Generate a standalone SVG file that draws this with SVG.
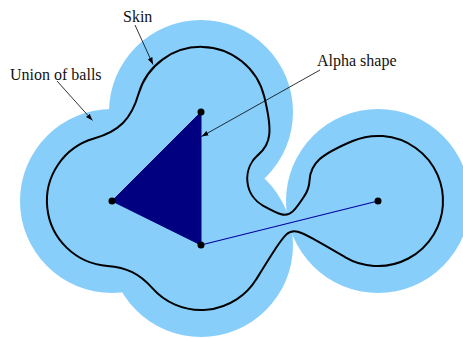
<svg xmlns="http://www.w3.org/2000/svg" width="463" height="338" viewBox="0 0 463 338">
  <style>
    .ball { fill: #87cefa; stroke: none; }
    .skin { fill: none; stroke: #000; stroke-width: 2; stroke-linejoin: round; }
    .alpha { fill: #000080; stroke: #000080; stroke-width: 1; stroke-linejoin: round; }
    .alphaedge { stroke: #0000a0; stroke-width: 1.1; fill: none; }
    .pt { fill: #000; }
    .lbl { font-family: "Liberation Serif", "Times New Roman", serif; font-size: 16px; fill: #111; }
    .leader { stroke: #000; stroke-width: 0.8; fill: none; marker-end: url(#arr); }
  </style>
  <defs>
    <marker id="arr" viewBox="0 0 10 10" refX="10" refY="5" markerWidth="7" markerHeight="7" markerUnits="userSpaceOnUse" orient="auto">
      <path d="M0,1.5 L10,5 L0,8.5 z" fill="#000"/>
    </marker>
  </defs>
  <rect width="463" height="338" fill="#fff"/>
  <g id="union-of-balls">
    <circle class="ball" cx="201" cy="112" r="92"/>
    <circle class="ball" cx="112" cy="201" r="92"/>
    <circle class="ball" cx="201" cy="245" r="92"/>
    <circle class="ball" cx="378" cy="201" r="92"/>
  </g>
  <g id="skin">
    <path class="skin" d="M 138.49,93.99
      A 65.05 65.05 0 0 1 264.23,96.55
      C 268.72,114.88 270.19,125.81 269.29,134.45
      C 268.41,142.99 265.23,148.87 258.39,154.63
      A 31.27 31.27 0 0 0 263.33,205.88
      C 269.41,209.23 275.51,212.68 281.16,214.30
      C 285.59,215.55 289.47,214.59 292.80,211.40
      C 297.03,207.34 300.81,201.43 304.61,195.62
      A 31.27 31.27 0 0 0 309.55,180.35
      C 310.09,171.43 312.93,165.37 319.25,159.57
      C 325.65,153.71 335.30,148.36 352.69,141.03
      A 65.05 65.05 0 1 1 344.94,257.03
      C 334.65,250.95 324.33,244.85 314.16,239.30
      C 308.59,236.25 303.03,233.18 297.84,231.70
      C 293.41,230.45 289.53,231.41 286.20,234.60
      C 282.31,238.32 278.83,243.65 275.34,248.94
      C 268.95,258.61 262.69,268.83 256.44,279.03
      A 65.05 65.05 0 0 1 152.10,287.91
      C 146.21,281.17 139.65,275.77 132.23,272.10
      C 124.81,268.43 116.53,266.51 107.60,265.91
      A 65.05 65.05 0 0 1 93.99,138.49
      C 105.50,135.18 115.53,130.37 122.95,122.95
      C 130.37,115.53 135.18,105.50 138.49,93.99 Z"/>
  </g>
  <g id="alpha-shape">
    <polygon class="alpha" points="201,112 112,201 201,245"/>
    <line class="alphaedge" x1="201" y1="245" x2="378" y2="201"/>
  </g>
  <g id="points">
    <circle class="pt" cx="201" cy="112" r="3.5"/>
    <circle class="pt" cx="112" cy="201" r="3.5"/>
    <circle class="pt" cx="201" cy="245" r="3.5"/>
    <circle class="pt" cx="378" cy="201" r="3.5"/>
  </g>
  <g id="connectors">
    <line class="leader" x1="135" y1="25" x2="153" y2="64.5"/>
    <line class="leader" x1="57" y1="81" x2="92.5" y2="120.5"/>
    <line class="leader" x1="320" y1="70" x2="201.5" y2="136.5"/>
  </g>
  <g id="label-skin"><text class="lbl" x="123" y="22">Skin</text></g>
  <g id="label-union"><text class="lbl" x="10" y="80">Union of balls</text></g>
  <g id="label-alpha"><text class="lbl" x="317" y="66">Alpha shape</text></g>
</svg>
